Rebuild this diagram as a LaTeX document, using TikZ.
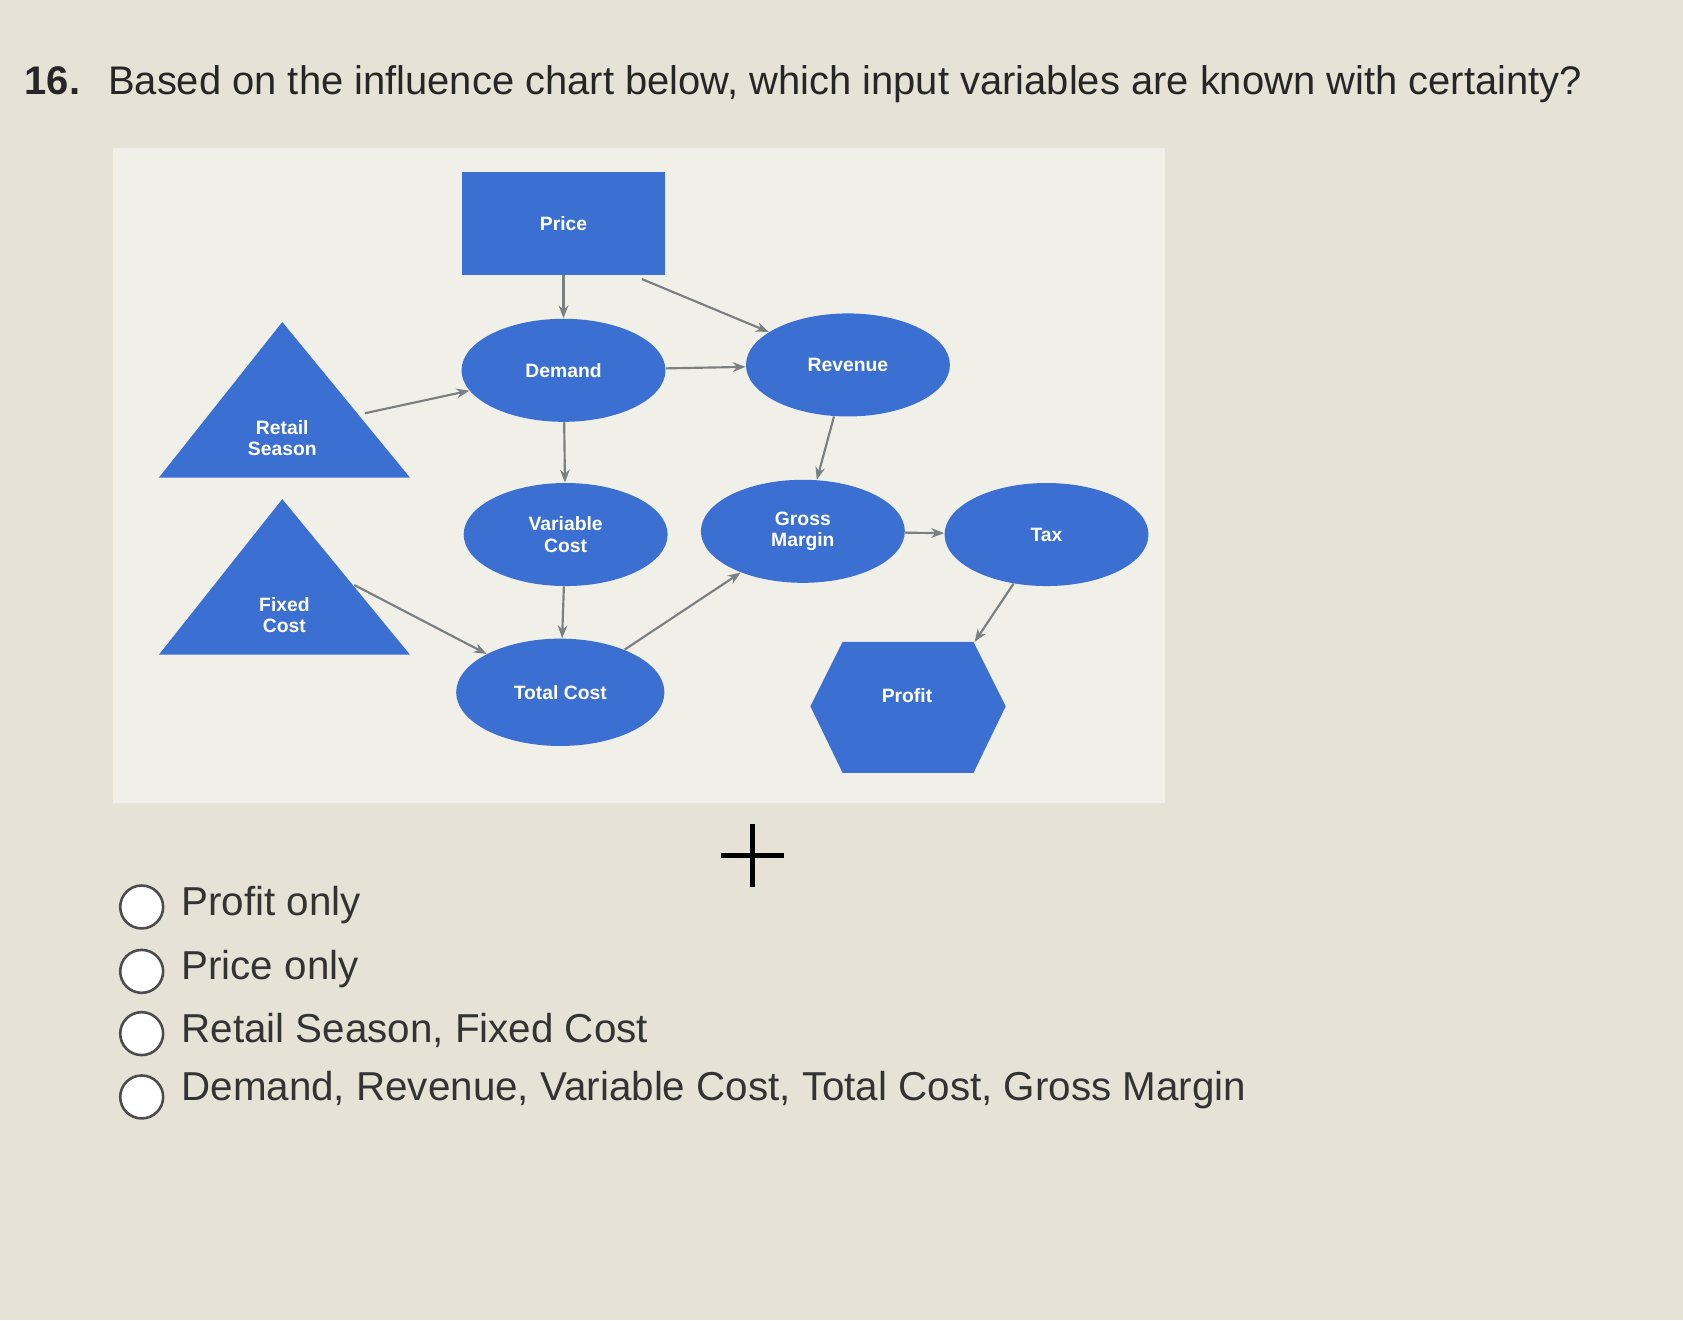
\documentclass[tikz,border=0pt]{standalone}
\usepackage{fontspec}
\setmainfont{Liberation Sans}
\usetikzlibrary{shapes.geometric,arrows.meta}
\definecolor{bg}{HTML}{E6E3D6}
\definecolor{chartbg}{HTML}{F1F0E8}
\definecolor{nblue}{HTML}{3B6FD2}
\definecolor{arr}{HTML}{7A7F80}
\tikzset{
 ell/.style={ellipse,fill=nblue,minimum width=95pt,minimum height=48pt,text=white,font=\fontsize{9}{10}\selectfont\bfseries,align=center,inner sep=0pt},
 tri/.style={fill=nblue},
 lab/.style={text=white,font=\fontsize{9}{10}\selectfont\bfseries,align=center},
 con/.style={draw=arr,line width=1pt,-{Stealth[length=6pt]}},
 opt/.style={anchor=west,font=\fontsize{18.8}{22}\selectfont,text=black!80},
 radio/.style={circle,draw=black!70,fill=white,line width=1.2pt,minimum size=20pt,inner sep=0pt}
}
\begin{document}
\begin{tikzpicture}[x=0.5pt,y=-0.5pt]
\fill[bg] (0,0) rectangle (1568,1230);
\useasboundingbox (0,0) rectangle (1568,1230);
\node[anchor=west,font=\fontsize{18.6}{21}\selectfont,text=black!85] (title) at (16,78) {\textbf{16.}\hspace{13pt}Based on the influence chart below, which input variables are known with certainty?};
\fill[chartbg] (105,138) rectangle (1085,748);
\node[fill=nblue,minimum width=95pt,minimum height=48pt,lab] (price) at (525,208) {Price};
\node[ell] (demand) at (525,345) {Demand};
\node[ell] (revenue) at (790,340) {Revenue};
\node[ell] (vc) at (527,498) {Variable\\Cost};
\node[ell] (gm) at (748,495) {Gross\\Margin};
\node[ell] (tax) at (975,498) {Tax};
\node[ell,minimum width=97pt,minimum height=50pt] (tc) at (522,645) {Total Cost};
\fill[tri] (263,300) -- (382,445) -- (148,445) -- cycle;
\node[lab] (rs) at (263,408) {Retail\\Season};
\fill[tri] (263,465) -- (382,610) -- (148,610) -- cycle;
\node[lab] (fc) at (265,573) {Fixed\\Cost};
\fill[nblue] (755,658) -- (785,598) -- (907,598) -- (937,658) -- (907,720) -- (785,720) -- cycle;
\node[lab] (profit) at (845,648) {Profit};
\coordinate (rsE) at (340,385);
\coordinate (fcE) at (330,545);
\coordinate (pE) at (598,260);
\coordinate (pro) at (908,598);
\draw[con] (price) -- (demand);
\draw[con] (pE) -- (revenue);
\draw[con] (rsE) -- (demand);
\draw[con] (demand) -- (revenue);
\draw[con] (revenue) -- (gm);
\draw[con] (demand) -- (vc);
\draw[con] (vc) -- (tc);
\draw[con] (fcE) -- (tc);
\draw[con] (tc) -- (gm);
\draw[con] (gm) -- (tax);
\draw[con] (tax) -- (pro);
\draw[line width=2.5pt] (672,797) -- (730,797) (701,768) -- (701,826);
\node[radio] (r1) at (132,845) {};
\node[radio] (r2) at (132,905) {};
\node[radio] (r3) at (132,963) {};
\node[radio] (r4) at (132,1022) {};
\node[opt] (o1) at (162,843) {Profit only};
\node[opt] (o2) at (162,903) {Price only};
\node[opt] (o3) at (162,960) {Retail Season, Fixed Cost};
\node[opt] (o4) at (162,1016) {Demand, Revenue, Variable Cost, Total Cost, Gross Margin};
\end{tikzpicture}
\end{document}
